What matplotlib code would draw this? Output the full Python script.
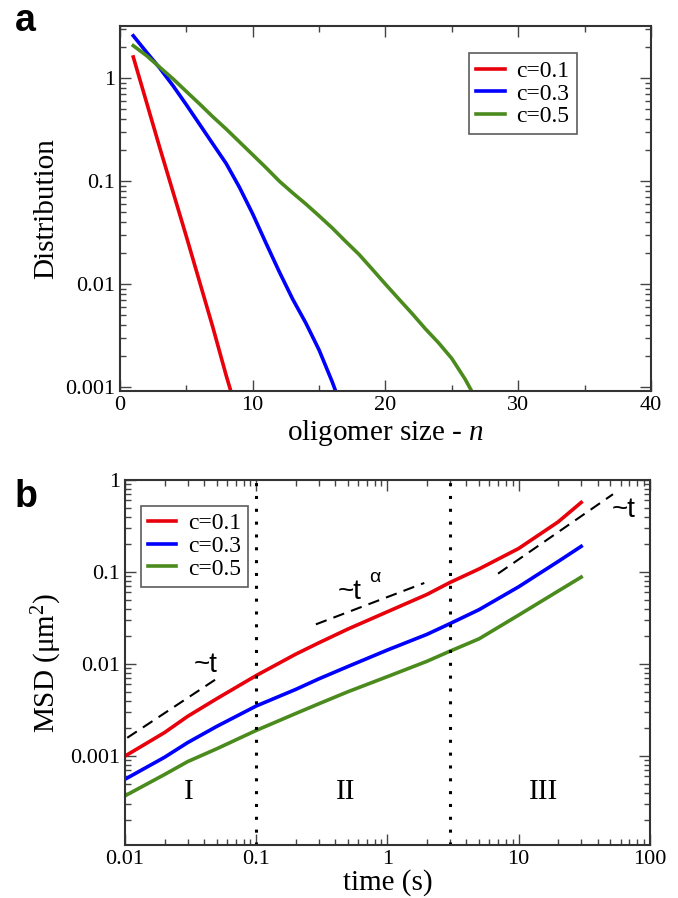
import numpy as np
import matplotlib.pyplot as plt
from matplotlib.ticker import LogLocator, NullFormatter, MultipleLocator

# panel a: oligomer size distribution
n_red = [1, 2, 3, 4, 5, 6, 7, 8, 9]
dist_red = [1.6, 0.58, 0.21, 0.078, 0.029, 0.0105, 0.0038, 0.0013, 0.00048]
n_blue = list(range(1, 18))
dist_blue = [2.57, 1.78, 1.245, 0.84, 0.55, 0.355, 0.229, 0.148, 0.087, 0.048,
             0.025, 0.0132, 0.0072, 0.0042, 0.0023, 0.00112, 0.0005]
n_green = list(range(1, 28))
dist_green = [2.06, 1.65, 1.27, 0.98, 0.74, 0.56, 0.42, 0.32, 0.24, 0.18, 0.135,
              0.1, 0.077, 0.06, 0.046, 0.035, 0.026, 0.0195, 0.014, 0.01,
              0.0072, 0.0052, 0.0037, 0.0027, 0.0019, 0.0012, 0.0007]

# panel b: MSD vs time
t_msd = [0.01, 0.02, 0.03, 0.05, 0.1, 0.2, 0.3, 0.5, 1, 2, 3, 5, 10, 20, 30]
msd_red = [0.001, 0.0018, 0.0027, 0.0042, 0.0075, 0.0128, 0.017, 0.024, 0.037,
           0.057, 0.077, 0.108, 0.18, 0.35, 0.57]
msd_blue = [0.00056, 0.00097, 0.0014, 0.0021, 0.0035, 0.0053, 0.0069, 0.0094,
            0.0142, 0.021, 0.0275, 0.039, 0.069, 0.13, 0.19]
msd_green = [0.00037, 0.00063, 0.00087, 0.0012, 0.0019, 0.0029, 0.0037, 0.005,
             0.0073, 0.0107, 0.0138, 0.0188, 0.034, 0.062, 0.088]

guide_lo_t = [0.0104, 0.049]
guide_lo_y = [0.00158, 0.0068]
guide_mid_t = [0.285, 1.91]
guide_mid_y = [0.027, 0.076]
guide_hi_t = [6.97, 52.4]
guide_hi_y = [0.096, 0.70]
regime_bounds = [0.1, 3.0]

labels = ['c=0.1', 'c=0.3', 'c=0.5']
colors = ['#e8000b', '#0000ff', '#4b8b1e']

serif = ['Liberation Serif', 'DejaVu Serif']
sans = ['Liberation Sans', 'DejaVu Sans']
plt.rcParams['font.family'] = serif
plt.rcParams['mathtext.fontset'] = 'custom'
plt.rcParams['mathtext.it'] = 'Liberation Serif:italic'
plt.rcParams['mathtext.rm'] = 'Liberation Serif'

fig = plt.figure(figsize=(6.78, 8.98), dpi=100)
ax1 = fig.add_axes([0.177, 0.5646, 0.783, 0.4065])
ax2 = fig.add_axes([0.1844, 0.059, 0.774, 0.4065])


def style_axis(ax):
    ax.tick_params(which='both', direction='in', top=True, right=True,
                   labelsize=16, width=1.0, color='#444444')
    ax.tick_params(which='major', length=8)
    ax.tick_params(which='minor', length=4)
    for sp in ax.spines.values():
        sp.set_linewidth(1.5)
        sp.set_color('#333333')


lw = 2.6
ax1.plot(n_red, dist_red, color=colors[0], lw=lw, label=labels[0])
ax1.plot(n_blue, dist_blue, color=colors[1], lw=lw, label=labels[1])
ax1.plot(n_green, dist_green, color=colors[2], lw=lw, label=labels[2])
ax1.set_yscale('log')
ax1.set_xlim(0, 40)
ax1.set_ylim(0.00092, 3.2)
ax1.xaxis.set_major_locator(MultipleLocator(10))
ax1.xaxis.set_minor_locator(MultipleLocator(5))
ax1.yaxis.set_minor_locator(LogLocator(base=10, subs=np.arange(2, 10), numticks=20))
ax1.yaxis.set_minor_formatter(NullFormatter())
ax1.set_yticks([0.001, 0.01, 0.1, 1])
ax1.set_yticklabels(['0.001', '0.01', '0.1', '1'])
ax1.set_xlabel('oligomer size - $\\mathit{n}$', fontsize=21, labelpad=2)
ax1.set_ylabel('Distribution', fontsize=21, labelpad=4)
style_axis(ax1)
leg1 = ax1.legend(loc='upper right', bbox_to_anchor=(0.86, 0.925), fontsize=17,
                  frameon=True, fancybox=False, edgecolor='#333333',
                  handlelength=1.2, handletextpad=0.5, labelspacing=0.05,
                  borderpad=0.3, borderaxespad=0)
leg1.get_frame().set_linewidth(1.2)

ax2.plot(t_msd, msd_red, color=colors[0], lw=lw, label=labels[0])
ax2.plot(t_msd, msd_blue, color=colors[1], lw=lw, label=labels[1])
ax2.plot(t_msd, msd_green, color=colors[2], lw=lw, label=labels[2])
for tb in regime_bounds:
    ax2.axvline(tb, color='black', lw=2.2, ls=(0, (1, 3.2)))
for gt, gy in [(guide_lo_t, guide_lo_y), (guide_mid_t, guide_mid_y),
               (guide_hi_t, guide_hi_y)]:
    ax2.plot(gt, gy, color='black', lw=1.5, ls=(0, (5.5, 3.5)))
ax2.set_xscale('log')
ax2.set_yscale('log')
ax2.set_xlim(0.01, 100)
ax2.set_ylim(1.08e-4, 1)
ax2.set_xticks([0.01, 0.1, 1, 10, 100])
ax2.set_xticklabels(['0.01', '0.1', '1', '10', '100'])
ax2.set_yticks([0.001, 0.01, 0.1, 1])
ax2.set_yticklabels(['0.001', '0.01', '0.1', '1'])
ax2.xaxis.set_minor_locator(LogLocator(base=10, subs=np.arange(2, 10), numticks=20))
ax2.yaxis.set_minor_locator(LogLocator(base=10, subs=np.arange(2, 10), numticks=20))
ax2.xaxis.set_minor_formatter(NullFormatter())
ax2.yaxis.set_minor_formatter(NullFormatter())
ax2.set_xlabel('time (s)', fontsize=21, labelpad=0)
ax2.set_ylabel('MSD ($\\mathregular{\\mu m^2}$)', fontsize=21, labelpad=4)
style_axis(ax2)
leg2 = ax2.legend(loc='upper left', bbox_to_anchor=(0.03, 0.93), fontsize=17,
                  frameon=True, fancybox=False, edgecolor='#333333',
                  handlelength=1.2, handletextpad=0.5, labelspacing=0.05,
                  borderpad=0.3, borderaxespad=0)
leg2.get_frame().set_linewidth(1.2)

ax2.text(0.041, 0.0098, '~t', fontsize=20, family=sans, ha='center', va='center')
ax2.text(0.52, 0.06, '~t', fontsize=20, family=sans, ha='center', va='center')
ax2.text(0.80, 0.088, '\u03b1', fontsize=14, family=sans, ha='center', va='center')
ax2.text(63, 0.47, '~t', fontsize=20, family=sans, ha='center', va='center')
ax2.text(0.0306, 0.00041, 'I', fontsize=21, ha='center', va='center')
ax2.text(0.48, 0.00041, 'II', fontsize=21, ha='center', va='center')
ax2.text(15.6, 0.00041, 'III', fontsize=21, ha='center', va='center')

fig.text(0.038, 0.977, 'a', fontsize=27, fontweight='bold', family=sans,
         ha='center', va='center')
fig.text(0.038, 0.446, 'b', fontsize=27, fontweight='bold', family=sans,
         ha='center', va='center')

fig.savefig('out.png', dpi=100)
